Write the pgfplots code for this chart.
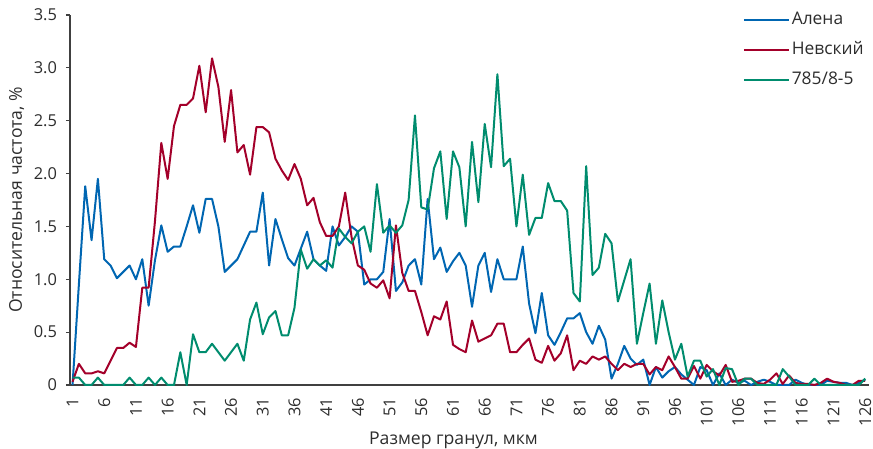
\documentclass[border=0pt]{standalone}
\usepackage{pgfplots}
\usepackage{pgfplotstable}
\pgfplotsset{compat=1.18}
\usepackage{fontspec}
\setmainfont{Open Sans}
\definecolor{cblue}{RGB}{0,102,178}
\definecolor{cred}{RGB}{163,0,42}
\definecolor{cgreen}{RGB}{0,140,110}
\definecolor{txt}{RGB}{45,45,45}
\pgfplotstableread{
x a n g
1 0.00 0.03 0.07
2 0.95 0.20 0.07
3 1.88 0.11 0.00
4 1.37 0.11 0.00
5 1.95 0.13 0.07
6 1.19 0.11 0.00
7 1.13 0.23 0.00
8 1.01 0.35 0.00
9 1.07 0.35 0.00
10 1.13 0.40 0.07
11 1.00 0.36 0.00
12 1.19 0.92 0.00
13 0.75 0.92 0.07
14 1.18 1.55 0.00
15 1.51 2.29 0.07
16 1.26 1.95 0.00
17 1.31 2.45 0.00
18 1.31 2.65 0.31
19 1.50 2.65 0.00
20 1.70 2.71 0.48
21 1.44 3.02 0.31
22 1.76 2.58 0.31
23 1.76 3.09 0.39
24 1.50 2.82 0.31
25 1.07 2.30 0.23
26 1.13 2.79 0.31
27 1.19 2.20 0.39
28 1.32 2.27 0.23
29 1.45 1.99 0.62
30 1.45 2.44 0.78
31 1.82 2.44 0.48
32 1.13 2.39 0.64
33 1.57 2.14 0.70
34 1.38 2.03 0.47
35 1.20 1.94 0.47
36 1.13 2.09 0.73
37 1.29 1.95 1.28
38 1.45 1.70 1.10
39 1.19 1.77 1.19
40 1.13 1.54 1.13
41 1.08 1.41 1.18
42 1.50 1.41 1.11
43 1.32 1.50 1.48
44 1.40 1.82 1.40
45 1.50 1.40 1.34
46 1.45 1.13 1.45
47 0.95 1.09 1.50
48 1.00 0.96 1.26
49 1.00 0.92 1.90
50 1.07 0.99 1.44
51 1.57 0.82 1.51
52 0.89 1.51 1.44
53 0.97 1.06 1.51
54 1.13 0.89 1.75
55 1.19 0.89 2.55
56 0.95 0.69 1.68
57 1.76 0.47 1.66
58 1.19 0.65 2.05
59 1.30 0.62 2.21
60 1.07 0.79 1.57
61 1.17 0.38 2.21
62 1.25 0.34 2.06
63 1.13 0.31 1.50
64 0.74 0.61 2.30
65 1.13 0.41 1.73
66 1.25 0.44 2.47
67 0.88 0.47 2.06
68 1.19 0.58 2.94
69 1.00 0.58 2.07
70 1.00 0.31 2.14
71 1.00 0.31 1.50
72 1.31 0.38 1.99
73 0.77 0.44 1.42
74 0.49 0.24 1.58
75 0.87 0.21 1.58
76 0.47 0.37 1.91
77 0.38 0.23 1.74
78 0.50 0.30 1.74
79 0.63 0.47 1.65
80 0.63 0.14 0.87
81 0.68 0.23 0.79
82 0.50 0.20 2.07
83 0.39 0.27 1.04
84 0.56 0.24 1.11
85 0.43 0.27 1.43
86 0.06 0.20 1.34
87 0.20 0.14 0.79
88 0.37 0.20 0.99
89 0.25 0.17 1.19
90 0.19 0.20 0.39
91 0.24 0.20 0.68
92 0.00 0.10 0.96
93 0.17 0.17 0.39
94 0.07 0.14 0.80
95 0.13 0.27 0.50
96 0.17 0.17 0.24
97 0.10 0.06 0.39
98 0.05 0.06 0.08
99 0.00 0.18 0.23
100 0.17 0.06 0.23
101 0.14 0.19 0.08
102 0.00 0.13 0.15
103 0.11 0.09 0.00
104 0.00 0.19 0.16
105 0.05 0.03 0.15
106 0.02 0.04 0.00
107 0.04 0.06 0.06
108 0.00 0.06 0.06
109 0.03 0.02 0.00
110 0.05 0.01 0.00
111 0.03 0.05 0.00
112 0.00 0.11 0.00
113 0.00 0.01 0.15
114 0.00 0.09 0.08
115 0.05 0.02 0.00
116 0.02 0.01 0.00
117 0.00 0.01 0.00
118 0.00 0.00 0.06
119 0.00 0.02 0.00
120 0.04 0.06 0.00
121 0.03 0.03 0.00
122 0.02 0.02 0.00
123 0.02 0.00 0.00
124 0.00 0.00 0.00
125 0.02 0.04 0.00
126 0.05 0.04 0.06
}\data
\begin{document}
\begin{tikzpicture}
\path[use as bounding box] (-35pt,-32pt) rectangle (401.5pt,192.5pt);
\begin{axis}[
  at={(0pt,0pt)}, anchor=origin,
  scale only axis,
  width=399.5pt, height=185pt,
  xmin=0.6, xmax=126.6,
  ymin=0, ymax=3.5,
  axis x line*=bottom,
  axis y line*=left,
  axis line style={black!75, line width=0.6pt},
  xtick={1,6,...,126},
  ytick={0,0.5,...,3.5},
  yticklabels={0,0.5,1.0,1.5,2.0,2.5,3.0,3.5},
  x tick label style={rotate=90, anchor=east, font=\fontsize{8.2}{10}\selectfont, text=txt},
  y tick label style={font=\fontsize{8.2}{10}\selectfont, text=txt},
  xtick style={draw=none},
  ytick style={black!75, line width=0.6pt},
  tick align=outside,
  major tick length=2pt,
  xticklabel shift=1pt,
  yticklabel shift=1pt,
  /pgf/number format/assume math mode=true,
  xlabel={Размер гранул, мкм},
  ylabel={Относительная частота, \%},
  label style={font=\fontsize{8.8}{10}\selectfont, text=txt},
  xlabel style={at={(rel axis cs:0.48,0)}, anchor=base, yshift=-30pt},
  ylabel shift=-2pt,
  legend style={at={(rel axis cs:0.834,1.025)}, anchor=north west, draw=none, fill=none,
    font=\fontsize{8.7}{10}\selectfont, text=txt, row sep=5pt,
    nodes={inner sep=1pt}},
  legend cell align=left,
  legend image code/.code={\draw[#1] (0pt,0pt) -- (22.5pt,0pt);},
  /tikz/every even column/.append style={column sep=6pt},
  every axis plot/.append style={line width=1pt, line join=round},
  clip=false,
]
\addplot[cblue] table[x=x,y=a] {\data};
\addlegendentry{Алена}
\addplot[cred] table[x=x,y=n] {\data};
\addlegendentry{Невский}
\addplot[cgreen] table[x=x,y=g] {\data};
\addlegendentry{785/8-5}
\end{axis}
\end{tikzpicture}
\end{document}
